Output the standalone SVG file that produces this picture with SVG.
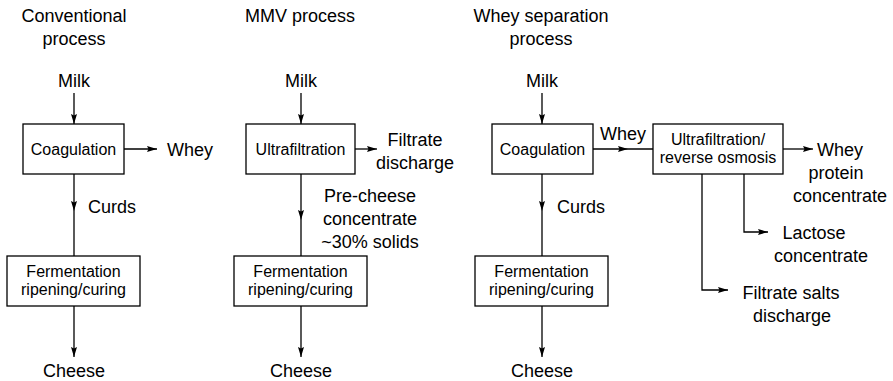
<svg xmlns="http://www.w3.org/2000/svg" width="893" height="381" viewBox="0 0 893 381">
<style>
.big{font-family:"Liberation Sans",Arial,sans-serif;font-size:18px;fill:#000;text-anchor:middle}
.sm{font-family:"Liberation Sans",Arial,sans-serif;font-size:16px;fill:#000;text-anchor:middle}
.box{fill:#fff;stroke:#000;stroke-width:1.3}
.ln{fill:none;stroke:#000;stroke-width:1.3}
.end{marker-end:url(#ah)}
.mid{marker-mid:url(#ah)}
</style>
<defs>
<marker id="ah" markerWidth="11" markerHeight="7" refX="10" refY="3" orient="auto" markerUnits="userSpaceOnUse">
<path d="M0,0 L10,3 L0,6 L1.5,3 z" fill="#000"/>
</marker>
</defs>
<g id="titles">
<text class="big" x="74" y="22">Conventional</text>
<text class="big" x="74" y="45">process</text>
<text class="big" x="300" y="22">MMV process</text>
<text class="big" x="541" y="22">Whey separation</text>
<text class="big" x="541" y="45">process</text>
</g>
<g id="connectors">
<path class="ln end" d="M74,93 L74,124"/>
<path class="ln end" d="M124,149 L157,149"/>
<path class="ln mid" d="M74,174 L74,211 L74,256"/>
<path class="ln end" d="M74,306 L74,357"/>
<path class="ln end" d="M301,93 L301,124"/>
<path class="ln end" d="M355,149 L377,149"/>
<path class="ln mid" d="M301,174 L301,220 L301,256"/>
<path class="ln end" d="M301,306 L301,357"/>
<path class="ln end" d="M542,93 L542,124"/>
<path class="ln mid" d="M593,149 L628,149 L653,149"/>
<path class="ln mid" d="M542,174 L542,211 L542,256"/>
<path class="ln end" d="M542,306 L542,357"/>
<path class="ln end" d="M783,149 L813,149"/>
<path class="ln end" d="M744,174 L744,232 L768,232"/>
<path class="ln end" d="M702,174 L702,290 L728,290"/>
</g>
<g id="conv-milk"><text class="big" x="74" y="87">Milk</text></g>
<g id="conv-coag"><rect class="box" x="23" y="124" width="101" height="50"/><text class="sm" x="73.5" y="154.5">Coagulation</text></g>
<g id="conv-whey"><text class="big" x="190" y="156">Whey</text></g>
<g id="conv-curds"><text class="big" x="112" y="213">Curds</text></g>
<g id="conv-ferm"><rect class="box" x="7" y="256" width="133" height="50"/><text class="sm" x="73.5" y="277">Fermentation</text><text class="sm" x="73.5" y="295">ripening/curing</text></g>
<g id="conv-cheese"><text class="big" x="74" y="377">Cheese</text></g>
<g id="mmv-milk"><text class="big" x="301" y="87">Milk</text></g>
<g id="mmv-uf"><rect class="box" x="246" y="124" width="109" height="50"/><text class="sm" x="300.5" y="154.5">Ultrafiltration</text></g>
<g id="mmv-filtrate"><text class="big" x="415" y="146">Filtrate</text><text class="big" x="415" y="169">discharge</text></g>
<g id="mmv-pre"><text class="big" x="370" y="202">Pre-cheese</text><text class="big" x="370" y="225">concentrate</text><text class="big" x="370" y="248">~30% solids</text></g>
<g id="mmv-ferm"><rect class="box" x="234" y="256" width="133" height="50"/><text class="sm" x="300.5" y="277">Fermentation</text><text class="sm" x="300.5" y="295">ripening/curing</text></g>
<g id="mmv-cheese"><text class="big" x="301" y="377">Cheese</text></g>
<g id="ws-milk"><text class="big" x="542" y="87">Milk</text></g>
<g id="ws-coag"><rect class="box" x="492" y="124" width="101" height="50"/><text class="sm" x="542.5" y="154.5">Coagulation</text></g>
<g id="ws-whey"><text class="big" x="623" y="140">Whey</text></g>
<g id="ws-uf"><rect class="box" x="653" y="124" width="130" height="50"/><text class="sm" x="718" y="145">Ultrafiltration/</text><text class="sm" x="718" y="163">reverse osmosis</text></g>
<g id="ws-wpc"><text class="big" x="840" y="156">Whey</text><text class="big" x="836" y="179">protein</text><text class="big" x="840" y="202">concentrate</text></g>
<g id="ws-lactose"><text class="big" x="814" y="239">Lactose</text><text class="big" x="821" y="262">concentrate</text></g>
<g id="ws-salts"><text class="big" x="791" y="299">Filtrate salts</text><text class="big" x="792" y="322">discharge</text></g>
<g id="ws-curds"><text class="big" x="581" y="213">Curds</text></g>
<g id="ws-ferm"><rect class="box" x="475" y="256" width="133" height="50"/><text class="sm" x="541.5" y="277">Fermentation</text><text class="sm" x="541.5" y="295">ripening/curing</text></g>
<g id="ws-cheese"><text class="big" x="542" y="377">Cheese</text></g>
</svg>
